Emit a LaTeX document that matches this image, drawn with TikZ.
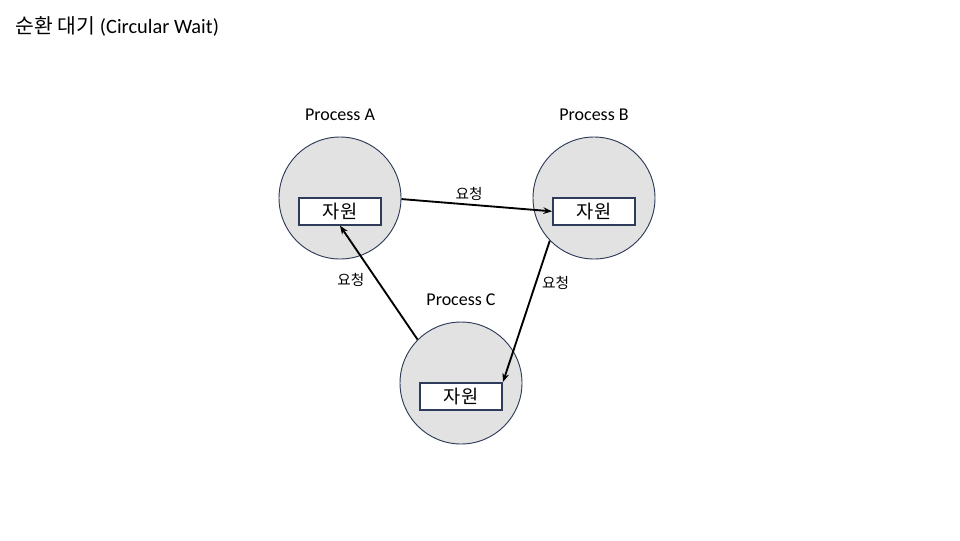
\documentclass[tikz,border=0pt]{standalone}
\usepackage{fontspec}
\setmainfont{Carlito}
\newfontfamily\kr{Noto Sans CJK KR}
\usetikzlibrary{arrows.meta}
\definecolor{procfill}{HTML}{E2E2E2}
\definecolor{navy}{HTML}{2F3B5A}

\begin{document}
\begin{tikzpicture}[x=0.75pt,y=-0.75pt]
   \tikzstyle{proc}=[draw=navy, line width=0.7pt, circle, fill=procfill, minimum size=91.5pt, inner sep=0pt]
   \tikzstyle{res}=[draw=navy, line width=1.5pt, fill=white, minimum width=61.5pt, minimum height=20pt, inner sep=0pt, font=\kr\fontsize{14}{16}\selectfont]
   \tikzstyle{req}=[line width=1.4pt, -{Stealth[length=6.5pt,width=5pt]}]
   \tikzstyle{reqlabel}=[font=\kr\fontsize{11}{13}\selectfont, inner sep=1pt]
   \tikzstyle{plabel}=[font=\fontsize{13.5}{15}\selectfont, label distance=8.5pt]

\useasboundingbox (0,0) rectangle (960,540);
\node[anchor=west, font=\fontsize{15.3}{18}\selectfont] (title) at (11,26) {{\kr 순환 대기} (Circular Wait)};

\node[proc, label={[plabel]90:Process A}] (procA) at (340,198) {};
\node[proc, label={[plabel]90:Process B}] (procB) at (594,198) {};
\node[proc, label={[plabel]90:Process C}] (procC) at (461,383) {};

\node[res] (resA) at ([yshift=-10pt]procA) {자원};
\node[res] (resB) at ([yshift=-10pt]procB) {자원};
\node[res] (resC) at ([yshift=-10pt]procC) {자원};

\draw[req] (procA.-1) -- node[reqlabel, pos=0.45, above=1pt] {요청} (resB.west);
\draw[req] (procB.224) -- node[reqlabel, pos=0.3, right=3pt] {요청} (resC.north east);
\draw[req] (procC.135) -- node[reqlabel, pos=0.52, left=8pt] {요청} (resA.south);

\end{tikzpicture}
\end{document}
